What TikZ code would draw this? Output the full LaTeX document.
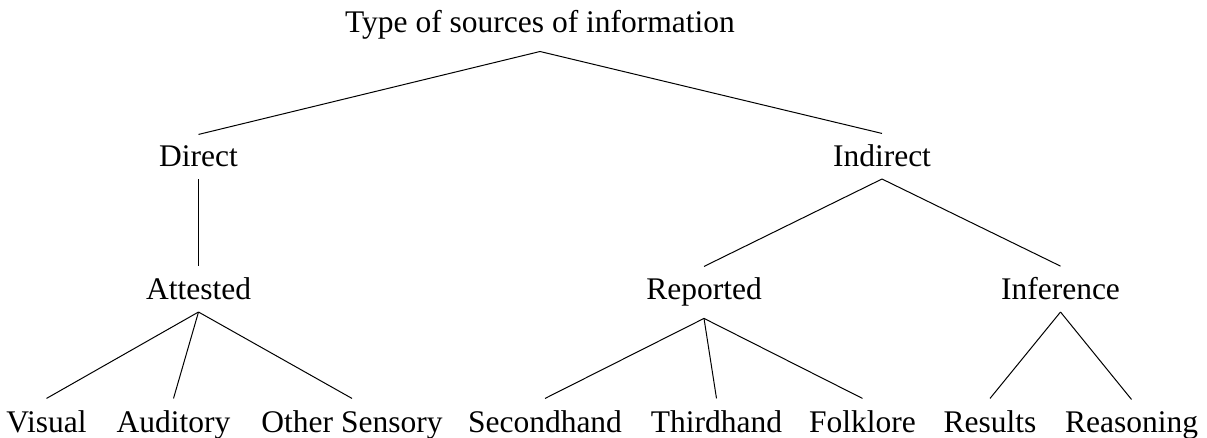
\documentclass[tikz,border=0pt]{standalone}
\usepackage{fontspec}
\setmainfont{Liberation Serif}
\begin{document}
\begin{tikzpicture}[x=1pt,y=-1pt,
  lbl/.style={anchor=base,inner sep=11.5pt,font=\fontsize{31.5}{38}\selectfont},
  edge/.style={line width=1pt,black}]
\useasboundingbox (0,0) rectangle (1207,438);
% level 0
\node[lbl] (root) at (540,33) {Type of sources of information};
% level 1
\node[lbl] (direct) at (198.5,167) {Direct};
\node[lbl] (indirect) at (882,167) {Indirect};
% level 2
\node[lbl] (attested) at (198.5,300) {Attested};
\node[lbl] (reported) at (704,300) {Reported};
\node[lbl] (inference) at (1060.5,300) {Inference};
% level 3
\node[lbl] (visual) at (46.5,432) {Visual};
\node[lbl] (auditory) at (173.5,432) {Auditory};
\node[lbl] (other) at (352,432) {Other Sensory};
\node[lbl] (second) at (545,432) {Secondhand};
\node[lbl] (third) at (716.5,432) {Thirdhand};
\node[lbl] (folk) at (862.5,432) {Folklore};
\node[lbl] (results) at (990,432) {Results};
\node[lbl] (reasoning) at (1131.5,432) {Reasoning};
% edges
\draw[edge] (root.south) -- (direct.north);
\draw[edge] (root.south) -- (indirect.north);
\draw[edge] (direct.south) -- (attested.north);
\draw[edge] (indirect.south) -- (reported.north);
\draw[edge] (indirect.south) -- (inference.north);
\draw[edge] (attested.south) -- (visual.north);
\draw[edge] (attested.south) -- (auditory.north);
\draw[edge] (attested.south) -- (other.north);
\draw[edge] (reported.south) -- (second.north);
\draw[edge] (reported.south) -- (third.north);
\draw[edge] (reported.south) -- (folk.north);
\draw[edge] (inference.south) -- (results.north);
\draw[edge] (inference.south) -- (reasoning.north);
\end{tikzpicture}
\end{document}
